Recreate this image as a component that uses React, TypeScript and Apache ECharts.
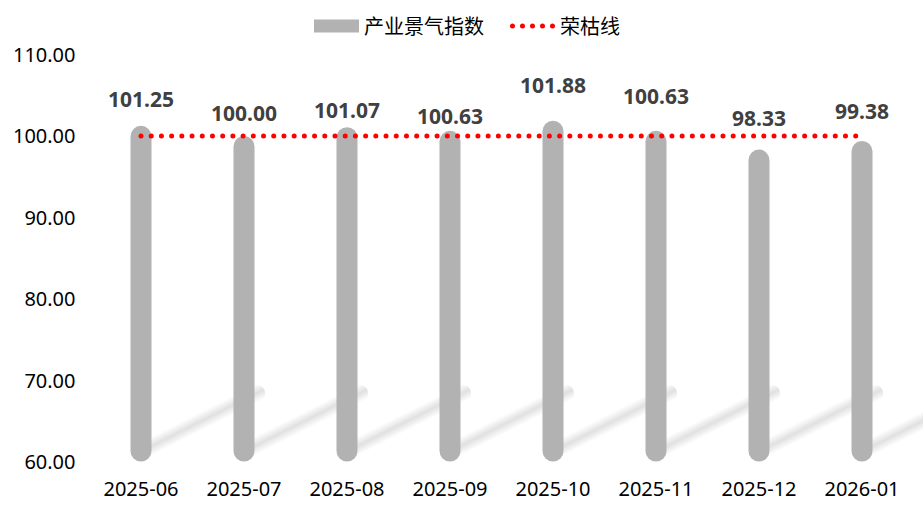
import React, { useEffect, useRef } from "react";
import * as echarts from "echarts";

const categories = ["2025-06", "2025-07", "2025-08", "2025-09", "2025-10", "2025-11", "2025-12", "2026-01"];
const indexValues = [101.25, 100.0, 101.07, 100.63, 101.88, 100.63, 98.33, 99.38];
const thresholdValues = [100, 100, 100, 100, 100, 100, 100, 100];
const yTicks = { min: 60, max: 110, interval: 10 };
// extra lift (px) applied to each value label, as laid out in the reference
const labelLift = [11, 7, 2, -1, 20, 19, 16, 15];

const FONT = "'Noto Sans', 'Noto Sans CJK SC', sans-serif";
const BAR_COLOR = "#b2b2b2";

export default function App() {
  const ref = useRef<HTMLDivElement>(null);
  useEffect(() => {
    if (!ref.current) return;
    const chart = echarts.init(ref.current, null, { renderer: "svg" });
    const dotsIcon =
      "path://M0,0L0.01,0Z M45,13L44.99,13Z " +
      [2.5, 12.5, 22.5, 32.5, 42.5]
        .map((cx) => `M${cx - 2.5},6.5a2.5,2.5 0 1,0 5,0a2.5,2.5 0 1,0 -5,0Z`)
        .join(" ");
    chart.setOption({
      animation: false,
      textStyle: { fontFamily: FONT },
      legend: {
        top: 11,
        left: 309,
        itemWidth: 45,
        itemHeight: 13,
        itemGap: 26,
        itemStyle: { borderWidth: 0 },
        textStyle: { fontSize: 20, color: "#000", fontFamily: FONT },
        data: [
          { name: "产业景气指数", icon: "rect", itemStyle: { color: BAR_COLOR } },
          { name: "荣枯线", icon: dotsIcon, itemStyle: { color: "#ff0000" } },
        ],
      },
      grid: { left: 89.5, right: 9.5, top: 54.6, bottom: 43.5, containLabel: false },
      xAxis: {
        type: "category",
        data: categories,
        axisLine: { show: false },
        axisTick: { show: false },
        axisLabel: { fontSize: 20, color: "#000", margin: 17, fontFamily: FONT },
      },
      yAxis: {
        type: "value",
        min: yTicks.min,
        max: yTicks.max,
        interval: yTicks.interval,
        splitLine: { show: false },
        axisLine: { show: false },
        axisTick: { show: false },
        axisLabel: {
          fontSize: 20,
          color: "#000",
          margin: 14,
          fontFamily: FONT,
          formatter: (v: number) => v.toFixed(2),
        },
      },
      series: [
        {
          name: "shadow",
          type: "custom",
          z: 1,
          silent: true,
          data: categories.map((c) => [c, yTicks.min]),
          encode: { x: 0, y: 1 },
          renderItem: (params: any, api: any) => {
            const p = api.coord([api.value(0), yTicks.min]);
            const T = 17;
            const L = 138;
            return {
              type: "rect",
              x: p[0],
              y: p[1] - 10,
              rotation: Math.atan2(62, 123),
              shape: { x: 0, y: -T / 2, width: L, height: T, r: T / 2 },
              style: {
                fill: new echarts.graphic.LinearGradient(0, 0, 0, 1, [
                  { offset: 0, color: "rgba(0,0,0,0)" },
                  { offset: 0.5, color: "rgba(0,0,0,0.12)" },
                  { offset: 1, color: "rgba(0,0,0,0)" },
                ]),
              },
            };
          },
        },
        {
          name: "产业景气指数",
          type: "bar",
          z: 2,
          barWidth: 21,
          data: indexValues.map((v, i) => ({
            value: v,
            label: { offset: [0, -labelLift[i]] },
          })),
          itemStyle: { color: BAR_COLOR, borderRadius: 10.5 },
          label: {
            show: true,
            position: "top",
            fontSize: 21,
            fontWeight: "bold",
            color: "#404040",
            fontFamily: FONT,
            formatter: (p: any) => Number(p.value).toFixed(2),
          },
        },
        {
          name: "荣枯线",
          type: "line",
          z: 3,
          data: thresholdValues,
          showSymbol: false,
          symbol: "none",
          itemStyle: { color: "#ff0000" },
          lineStyle: { color: "#ff0000", width: 5, type: [0.01, 10.2], cap: "round" },
        },
      ],
    });
    return () => chart.dispose();
  }, []);
  return (
    <div
      ref={ref}
      style={{ position: "fixed", left: 0, top: 0, width: 923, height: 505, background: "#fff" }}
    />
  );
}
